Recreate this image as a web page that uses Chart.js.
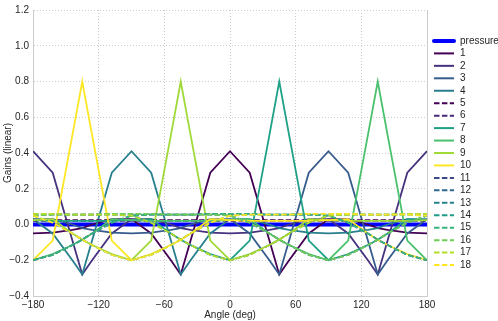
<!DOCTYPE html>
<html>
<head>
<meta charset="utf-8">
<script src="https://cdn.jsdelivr.net/npm/chart.js@4.4.0/dist/chart.umd.min.js"></script>
<style>
  html, body { margin: 0; padding: 0; background: #fff; }
  #wrap { width: 498px; height: 321px; }
</style>
</head>
<body>
<div id="wrap"><canvas id="gainChart" width="498" height="321"></canvas></div>
<script>
// angle samples (deg)
const angles = [-180, -162, -144, -135, -126, -108, -90, -72, -54, -45, -36, -18, 0,
                18, 36, 45, 54, 72, 90, 108, 126, 135, 144, 162, 180];

// gains
const pressure = [0, 0, 0, 0, 0, 0, 0, 0, 0, 0, 0, 0, 0, 0, 0, 0, 0, 0, 0, 0, 0, 0, 0, 0, 0];
const g1  = [-0.05, -0.045, -0.03, -0.02, 0.0, 0.03, 0.03, -0.05, -0.20, -0.28, -0.09, 0.29, 0.41, 0.29, -0.09, -0.28, -0.20, -0.05, 0.03, 0.03, 0.0, -0.02, -0.03, -0.045, -0.05];
const g2  = [0.41, 0.29, -0.09, -0.28, -0.20, -0.05, 0.03, 0.03, 0.0, -0.02, -0.03, -0.045, -0.05, -0.045, -0.03, -0.02, 0.0, 0.03, 0.03, -0.05, -0.20, -0.28, -0.09, 0.29, 0.41];
const g3  = [0.03, 0.03, 0.0, -0.02, -0.03, -0.045, -0.05, -0.045, -0.03, -0.02, 0.0, 0.03, 0.03, -0.05, -0.20, -0.28, -0.09, 0.29, 0.41, 0.29, -0.09, -0.28, -0.20, -0.05, 0.03];
const g4  = [0.03, -0.05, -0.20, -0.28, -0.09, 0.29, 0.41, 0.29, -0.09, -0.28, -0.20, -0.05, 0.03, 0.03, 0.0, -0.02, -0.03, -0.045, -0.05, -0.045, -0.03, -0.02, 0.0, 0.03, 0.03];
const g5  = [0.025, 0.025, 0.025, 0.025, 0.025, 0.025, 0.025, 0.025, 0.025, 0.025, 0.025, 0.025, 0.025, 0.025, 0.025, 0.025, 0.025, 0.025, 0.025, 0.025, 0.025, 0.025, 0.025, 0.025, 0.025];
const g6  = [0.02, 0.02, 0.02, 0.02, 0.02, 0.02, 0.02, 0.02, 0.02, 0.02, 0.02, 0.02, 0.02, 0.02, 0.02, 0.02, 0.02, 0.02, 0.02, 0.02, 0.02, 0.02, 0.02, 0.02, 0.02];
const g7  = [0.025, 0.02, 0.02, 0.02, 0.02, 0.02, 0.025, 0.03, -0.05, -0.085, -0.115, -0.165, -0.2, -0.09, 0.5, 0.8, 0.5, -0.09, -0.2, -0.165, -0.115, -0.085, -0.05, 0.03, 0.025];
const g8  = [-0.2, -0.165, -0.115, -0.085, -0.05, 0.03, 0.025, 0.02, 0.02, 0.02, 0.02, 0.02, 0.025, 0.03, -0.05, -0.085, -0.115, -0.165, -0.2, -0.09, 0.5, 0.8, 0.5, -0.09, -0.2];
const g9  = [0.025, 0.03, -0.05, -0.085, -0.115, -0.165, -0.2, -0.09, 0.5, 0.8, 0.5, -0.09, -0.2, -0.165, -0.115, -0.085, -0.05, 0.03, 0.025, 0.02, 0.02, 0.02, 0.02, 0.02, 0.025];
const g10 = [-0.2, -0.09, 0.5, 0.8, 0.5, -0.09, -0.2, -0.165, -0.115, -0.085, -0.05, 0.03, 0.025, 0.02, 0.02, 0.02, 0.02, 0.02, 0.025, 0.03, -0.05, -0.085, -0.115, -0.165, -0.2];
const g11 = [-0.2, -0.17, -0.115, -0.085, -0.05, 0.01, 0.05, 0.055, 0.055, 0.055, 0.055, 0.06, 0.06, 0.06, 0.055, 0.055, 0.055, 0.055, 0.05, 0.01, -0.05, -0.085, -0.115, -0.17, -0.2];
const g12 = [0.05, 0.055, 0.055, 0.055, 0.055, 0.06, 0.06, 0.06, 0.055, 0.055, 0.055, 0.055, 0.05, 0.01, -0.05, -0.085, -0.115, -0.17, -0.2, -0.17, -0.115, -0.085, -0.05, 0.01, 0.05];
const g13 = [0.06, 0.06, 0.055, 0.055, 0.055, 0.055, 0.05, 0.01, -0.05, -0.085, -0.115, -0.17, -0.2, -0.17, -0.115, -0.085, -0.05, 0.01, 0.05, 0.055, 0.055, 0.055, 0.055, 0.06, 0.06];
const g14 = [0.05, 0.01, -0.05, -0.085, -0.115, -0.17, -0.2, -0.17, -0.115, -0.085, -0.05, 0.01, 0.05, 0.055, 0.055, 0.055, 0.055, 0.06, 0.06, 0.06, 0.055, 0.055, 0.055, 0.055, 0.05];
const g15 = [-0.2, -0.17, -0.115, -0.085, -0.05, 0.01, 0.05, 0.055, 0.055, 0.055, 0.055, 0.06, 0.06, 0.06, 0.055, 0.055, 0.055, 0.055, 0.05, 0.01, -0.05, -0.085, -0.115, -0.17, -0.2];
const g16 = [0.05, 0.055, 0.055, 0.055, 0.055, 0.06, 0.06, 0.06, 0.055, 0.055, 0.055, 0.055, 0.05, 0.01, -0.05, -0.085, -0.115, -0.17, -0.2, -0.17, -0.115, -0.085, -0.05, 0.01, 0.05];
const g17 = [0.06, 0.06, 0.055, 0.055, 0.055, 0.055, 0.05, 0.01, -0.05, -0.085, -0.115, -0.17, -0.2, -0.17, -0.115, -0.085, -0.05, 0.01, 0.05, 0.055, 0.055, 0.055, 0.055, 0.06, 0.06];
const g18 = [0.05, 0.01, -0.05, -0.085, -0.115, -0.17, -0.2, -0.17, -0.115, -0.085, -0.05, 0.01, 0.05, 0.055, 0.055, 0.055, 0.055, 0.06, 0.06, 0.06, 0.055, 0.055, 0.055, 0.055, 0.05];

const names = ['pressure', '1', '2', '3', '4', '5', '6', '7', '8', '9', '10',
               '11', '12', '13', '14', '15', '16', '17', '18'];
const series = [pressure, g1, g2, g3, g4, g5, g6, g7, g8, g9, g10,
                g11, g12, g13, g14, g15, g16, g17, g18];
const colors = ['#0000ff',
  '#440154', '#46327e', '#365c8d', '#277f8e', '#440154', '#482878',
  '#1fa187', '#4ac16d', '#a0da39', '#fde725',
  '#3e4989', '#31688e', '#26828e', '#1f9e89', '#35b779', '#6ece58', '#b5de2b', '#fde725'];
const dashedOnes = ['5', '6', '11', '12', '13', '14', '15', '16', '17', '18'];

const FONT = '"Liberation Sans", Arial, sans-serif';
const minus = s => s.replace('-', '\u2212');

const datasets = series.map((vals, i) => ({
    label: names[i],
    data: angles.map((a, k) => ({ x: a, y: vals[k] })),
    borderColor: colors[i],
    borderWidth: i === 0 ? 4 : 1.8,
    borderDash: dashedOnes.includes(names[i]) ? [5.5, 2.4] : [],
    pointRadius: 0,
    fill: false,
    tension: 0,
    order: names.length - i
}));

// legend on the right + right spine
const sideLegend = {
    id: 'sideLegend',
    afterDraw(chart) {
        const ctx = chart.ctx;
        const area = chart.chartArea;
        ctx.save();
        ctx.strokeStyle = '#cccccc';
        ctx.lineWidth = 1;
        ctx.beginPath();
        ctx.moveTo(area.right + 0.5, area.top);
        ctx.lineTo(area.right + 0.5, area.bottom);
        ctx.stroke();

        const step = 12.45;
        const y0 = (area.top + area.bottom) / 2 - step * (names.length - 1) / 2;
        ctx.font = '10px ' + FONT;
        ctx.textBaseline = 'middle';
        chart.data.datasets.forEach((ds, i) => {
            const y = y0 + i * step;
            ctx.strokeStyle = ds.borderColor;
            ctx.lineWidth = i === 0 ? 4 : 2;
            ctx.lineCap = i === 0 ? 'round' : 'butt';
            ctx.setLineDash(ds.borderDash);
            ctx.beginPath();
            ctx.moveTo(434, y);
            ctx.lineTo(454, y);
            ctx.stroke();
            ctx.fillStyle = '#262626';
            ctx.fillText(ds.label, 460, y);
        });
        ctx.restore();
    }
};

new Chart(document.getElementById('gainChart'), {
    type: 'line',
    data: { datasets: datasets },
    options: {
        responsive: false,
        animation: false,
        layout: { padding: { top: 3, right: 71, left: 0, bottom: 0 } },
        plugins: {
            legend: { display: false },
            tooltip: { enabled: false }
        },
        scales: {
            x: {
                type: 'linear',
                min: -180,
                max: 180,
                afterFit: s => { s.height = 25; },
                ticks: {
                    stepSize: 60,
                    padding: 3,
                    color: '#262626',
                    font: { family: FONT, size: 10 },
                    callback: v => minus(String(v))
                },
                grid: { color: '#cccccc', lineWidth: 1, drawTicks: false },
                border: { color: '#cccccc', dash: [1, 2] },
                title: {
                    display: true,
                    text: 'Angle (deg)',
                    color: '#262626',
                    font: { family: FONT, size: 10 },
                    padding: { top: 0, bottom: 0 }
                }
            },
            y: {
                min: -0.4,
                max: 1.2,
                afterFit: s => { s.width = 33; },
                ticks: {
                    stepSize: 0.2,
                    padding: 4,
                    color: '#262626',
                    font: { family: FONT, size: 10 },
                    callback: v => Math.abs(v) < 1e-9 ? '0.0' : minus(v.toFixed(1))
                },
                grid: { color: '#cccccc', lineWidth: 1, drawTicks: false },
                border: { color: '#cccccc', dash: [1, 2] },
                title: {
                    display: true,
                    text: 'Gains (linear)',
                    color: '#262626',
                    font: { family: FONT, size: 10 },
                    padding: { top: 2, bottom: 0 }
                }
            }
        }
    },
    plugins: [sideLegend]
});
</script>
</body>
</html>
